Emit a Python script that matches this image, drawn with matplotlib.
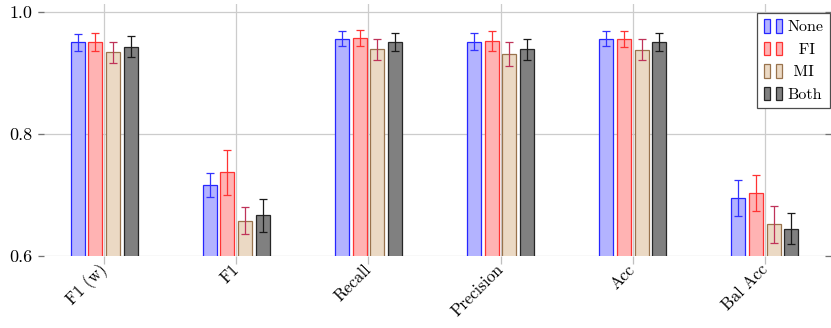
import numpy as np
import matplotlib
matplotlib.use("Agg")
import matplotlib.pyplot as plt
from matplotlib.patches import Rectangle
from matplotlib.legend_handler import HandlerBase

plt.rcParams['font.family'] = ['cmr10', 'DejaVu Serif']
plt.rcParams['axes.formatter.use_mathtext'] = True

metrics = ["F1 (w)", "F1", "Recall", "Precision", "Acc", "Bal Acc"]
methods = ["None", "FI", "MI", "Both"]

none_mean = [0.950, 0.716, 0.956, 0.951, 0.956, 0.695]
none_err = [0.014, 0.020, 0.012, 0.014, 0.012, 0.030]
fi_mean = [0.951, 0.737, 0.957, 0.952, 0.956, 0.703]
fi_err = [0.015, 0.037, 0.013, 0.016, 0.013, 0.029]
mi_mean = [0.934, 0.658, 0.939, 0.931, 0.938, 0.652]
mi_err = [0.017, 0.022, 0.017, 0.019, 0.017, 0.030]
both_mean = [0.943, 0.667, 0.951, 0.939, 0.951, 0.645]
both_err = [0.017, 0.027, 0.015, 0.017, 0.015, 0.026]

means = [none_mean, fi_mean, mi_mean, both_mean]
errs = [none_err, fi_err, mi_err, both_err]
fills = [(0.70, 0.70, 1.0), (1.0, 0.70, 0.70), (0.92, 0.85, 0.77), (0.50, 0.50, 0.50)]
edges = [(0.15, 0.15, 1.0), (1.0, 0.2, 0.2), (0.60, 0.45, 0.30), (0.15, 0.15, 0.15)]
ecols = [(0.2, 0.2, 1.0), (1.0, 0.2, 0.2), (0.75, 0.2, 0.35), (0.1, 0.1, 0.1)]


class TwoBars(HandlerBase):
    def create_artists(self, legend, orig_handle, xdescent, ydescent,
                       width, height, fontsize, trans):
        fc = orig_handle.get_facecolor()
        ec = orig_handle.get_edgecolor()
        w = width * 0.36
        out = []
        for x0 in (-xdescent, -xdescent + width - w):
            r = Rectangle((x0, -ydescent), w, height, facecolor=fc,
                          edgecolor=ec, linewidth=0.9, transform=trans)
            out.append(r)
        return out


fig = plt.figure(figsize=(8.31, 3.28), dpi=100)
ax = fig.add_axes([38 / 831, 1 - 256 / 328, 1 - 38 / 831, 252 / 328])

x = np.arange(len(metrics))
offsets = [-0.2, -0.067, 0.067, 0.2]
handles = []
for i in range(4):
    b = ax.bar(x + offsets[i], means[i], width=0.106, bottom=0,
               color=fills[i], edgecolor=edges[i], linewidth=0.9, zorder=3)
    ax.errorbar(x + offsets[i], means[i], yerr=errs[i], fmt='none',
                ecolor=ecols[i], elinewidth=0.9, capsize=2.7, capthick=0.9, zorder=4)
    handles.append(b.patches[0])

ax.set_xlim(-0.5, 5.5)
ax.set_ylim(0.6, 1.013)
ax.set_yticks([0.6, 0.8, 1.0])
ax.set_yticklabels(["0.6", "0.8", "1.0"])
ax.set_xticks(x)
ax.set_xticklabels(metrics, rotation=45, ha='right', va='center', rotation_mode='anchor')

for s in ax.spines.values():
    s.set_visible(False)
ax.grid(True, color=(0.8, 0.8, 0.8), linewidth=0.9, zorder=0)
ax.tick_params(axis='x', length=6, color=(0.75, 0.75, 0.75), width=0.9, labelsize=12, pad=2)
ax.tick_params(axis='y', direction='in', length=4, color=(0.45, 0.45, 0.45), width=0.9,
               labelsize=13, right=True, pad=4)

leg = ax.legend(handles, ["None", "  FI", " MI", "Both"], handler_map={h: TwoBars() for h in handles},
                loc='upper right', bbox_to_anchor=(0.999, 0.966), borderaxespad=0,
                fontsize=11.5, fancybox=False, framealpha=1, edgecolor=(0.3, 0.3, 0.3),
                handlelength=1.15, handleheight=0.95, handletextpad=0.35,
                labelspacing=0.45, borderpad=0.4)
leg.get_frame().set_linewidth(0.9)

fig.savefig("out.png", dpi=100)
